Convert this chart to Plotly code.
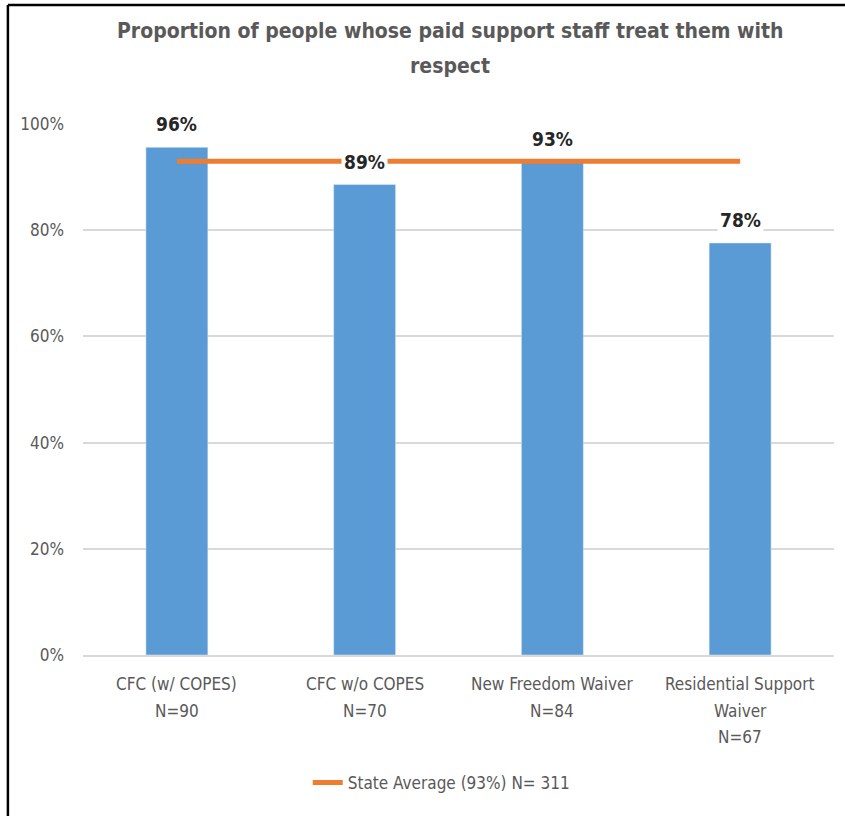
import plotly.graph_objects as go

categories = ["CFC (w/ COPES)", "CFC w/o COPES", "New Freedom Waiver", "Residential Support Waiver"]
tick_labels = [["CFC (w/ COPES)", "N=90"], ["CFC w/o COPES", "N=70"], ["New Freedom Waiver", "N=84"],
               ["Residential Support", "Waiver", "N=67"]]
values = [0.956, 0.886, 0.929, 0.776]
value_labels = ["96%", "89%", "93%", "78%"]
state_avg = [0.93, 0.93, 0.93, 0.93]
y_ticks = [0, 0.2, 0.4, 0.6, 0.8, 1.0]
y_tick_labels = ["0%", "20%", "40%", "60%", "80%", "100%"]
title_lines = ["Proportion of people whose paid support staff treat them with", "respect"]

FONT = "Liberation Sans Narrow, DejaVu Sans Condensed, sans-serif"
GRAY = "#595959"

fig = go.Figure()
fig.add_trace(go.Bar(x=categories, y=values, marker_color="#5B9BD5", showlegend=False,
                     hoverinfo="skip"))
fig.add_trace(go.Scatter(x=categories, y=state_avg, mode="lines",
                         line=dict(color="#ED7D31", width=5),
                         name="State Average (93%) N= 311"))

for c, v, t in zip(categories, values, value_labels):
    fig.add_annotation(x=c, y=v, text="<b>%s</b>" % t, showarrow=False, yshift=23,
                       bgcolor="white", borderpad=2,
                       font=dict(family=FONT, size=19, color="#262626"))

# category labels (one annotation per line for Excel-like line spacing)
for c, lines in zip(categories, tick_labels):
    for i, line in enumerate(lines):
        fig.add_annotation(x=c, y=0, yref="y", text=line, showarrow=False,
                           yanchor="middle", yshift=-(29 + 26.5 * i),
                           font=dict(family=FONT, size=17, color=GRAY))

for line, yy in zip(title_lines, [1.175, 1.109]):
    fig.add_annotation(xref="paper", yref="paper", x=0.489, y=yy, text="<b>%s</b>" % line,
                       showarrow=False, xanchor="center", yanchor="middle",
                       font=dict(family=FONT, size=21, color=GRAY))

fig.add_shape(type="line", xref="paper", yref="paper", x0=-0.100, x1=1.02, y0=1.224, y1=1.224,
              line=dict(color="black", width=2.5))
fig.add_shape(type="line", xref="paper", yref="paper", x0=-0.100, x1=-0.100, y0=1.224, y1=-0.4,
              line=dict(color="black", width=2.5))

fig.update_layout(
    width=845, height=816,
    margin=dict(l=83, r=11, t=124, b=161),
    paper_bgcolor="white", plot_bgcolor="white",
    bargap=0.67,
    font=dict(family=FONT, color=GRAY),
    xaxis=dict(tickmode="array", tickvals=categories, showticklabels=False, showgrid=False,
               showline=True, linecolor="#D9D9D9", linewidth=1.5, ticks=""),
    yaxis=dict(range=[0, 1.0], tickvals=y_ticks, ticktext=y_tick_labels,
               tickfont=dict(family=FONT, size=17, color=GRAY),
               showgrid=True, gridcolor="#D9D9D9", gridwidth=1.5, zeroline=False,
               ticklabelstandoff=18),
    legend=dict(orientation="h", x=0.477, xanchor="center", y=-0.241, yanchor="middle",
                font=dict(family=FONT, size=17, color=GRAY)),
)

fig.write_html("out.html", config={"displayModeBar": False},
               post_script="document.body.style.margin='0';")
